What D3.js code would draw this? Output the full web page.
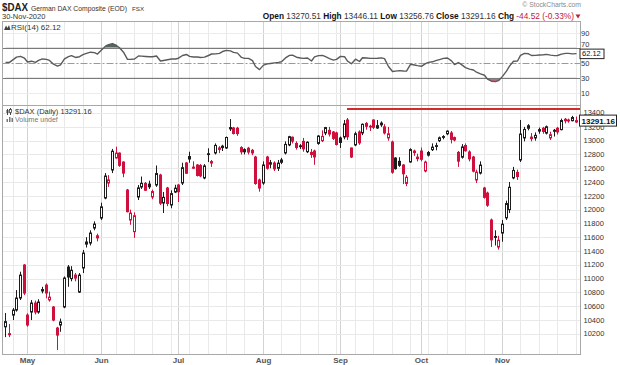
<!DOCTYPE html>
<html><head><meta charset="utf-8">
<script src="https://cdn.jsdelivr.net/npm/d3@7"></script>
<style>body{margin:0;background:#fff}svg{display:block}text{font-family:"Liberation Sans",Arial,sans-serif}</style>
</head><body><svg id="c" width="620" height="365"></svg>
<script>
const dates = ["2020-04-23","2020-04-24","2020-04-27","2020-04-28","2020-04-29","2020-04-30",
"2020-05-04","2020-05-05","2020-05-06","2020-05-07","2020-05-08","2020-05-11","2020-05-12","2020-05-13","2020-05-14","2020-05-15",
"2020-05-18","2020-05-19","2020-05-20","2020-05-21","2020-05-22","2020-05-25","2020-05-26","2020-05-27","2020-05-28","2020-05-29",
"2020-06-02","2020-06-03","2020-06-04","2020-06-05","2020-06-08","2020-06-09","2020-06-10","2020-06-11","2020-06-12",
"2020-06-15","2020-06-16","2020-06-17","2020-06-18","2020-06-19","2020-06-22","2020-06-23","2020-06-24","2020-06-25","2020-06-26","2020-06-29","2020-06-30",
"2020-07-01","2020-07-02","2020-07-03","2020-07-06","2020-07-07","2020-07-08","2020-07-09","2020-07-10","2020-07-13","2020-07-14","2020-07-15","2020-07-16","2020-07-17",
"2020-07-20","2020-07-21","2020-07-22","2020-07-23","2020-07-24","2020-07-27","2020-07-28","2020-07-29","2020-07-30","2020-07-31",
"2020-08-03","2020-08-04","2020-08-05","2020-08-06","2020-08-07","2020-08-10","2020-08-11","2020-08-12","2020-08-13","2020-08-14",
"2020-08-17","2020-08-18","2020-08-19","2020-08-20","2020-08-21","2020-08-24","2020-08-25","2020-08-26","2020-08-27","2020-08-28","2020-08-31",
"2020-09-01","2020-09-02","2020-09-03","2020-09-04","2020-09-07","2020-09-08","2020-09-09","2020-09-10","2020-09-11","2020-09-14","2020-09-15","2020-09-16","2020-09-17","2020-09-18",
"2020-09-21","2020-09-22","2020-09-23","2020-09-24","2020-09-25","2020-09-28","2020-09-29","2020-09-30",
"2020-10-01","2020-10-02","2020-10-05","2020-10-06","2020-10-07","2020-10-08","2020-10-09","2020-10-12","2020-10-13","2020-10-14","2020-10-15","2020-10-16",
"2020-10-19","2020-10-20","2020-10-21","2020-10-22","2020-10-23","2020-10-26","2020-10-27","2020-10-28","2020-10-29","2020-10-30",
"2020-11-02","2020-11-03","2020-11-04","2020-11-05","2020-11-06","2020-11-09","2020-11-10","2020-11-11","2020-11-12","2020-11-13",
"2020-11-16","2020-11-17","2020-11-18","2020-11-19","2020-11-20","2020-11-23","2020-11-24","2020-11-25","2020-11-26","2020-11-27","2020-11-30"];

const opens = [10300,10200,10470,10543,10717,11196,10470,10514,10645,10514,10820,10905,10690,10587,10282,10326,10587,11167,11000,11050,10804,11153,11530,11515,11733,11620,
11878,12168,12386,12575,12750,12820,12690,12284,11849,11680,12183,12328,12380,12370,12183,12357,12502,12096,12313,12067,12255,
12357,12386,12676,12770,12600,12647,12640,12459,12810,12676,12822,12894,12900,12894,13190,13184,13180,12900,12870,12890,12860,12763,12430,
12386,12763,12680,12676,12600,12720,12822,12938,13050,12960,12925,12990,12840,12800,12850,12960,13000,13112,13150,13125,13112,
13039,13054,13300,12894,12938,13126,13112,13250,13210,13300,13184,13230,13200,13040,12981,12748,12700,12647,12380,12691,12850,12740,
12850,12560,12790,12870,12920,13000,13060,13100,13112,13045,12830,12760,12930,12836,12763,12430,12530,12313,12240,11849,11610,11457,
11660,11880,12000,12460,12540,12720,13040,13180,13030,13040,13160,13180,13110,13040,13150,13180,13160,13310,13300,13290,13270.51];
const highs = [10500,10340,10572,10833,11099,11210,10495,10688,10680,10700,10880,10930,10810,10600,10300,10420,11030,11196,11180,11080,11080,11414,11600,11700,11830,11650,
12100,12530,12500,12880,12913,12830,12700,12300,12000,11960,12357,12480,12400,12420,12290,12640,12520,12255,12330,12280,12360,
12370,12680,12690,12840,12700,12660,12660,12660,12890,12720,12960,12920,12940,13060,13314,13200,13200,12920,12890,12910,12880,12780,12450,
12700,12780,12720,12700,12720,12750,12990,13070,13060,12990,12950,13040,12990,12880,12870,13080,13150,13200,13200,13140,13130,
13060,13300,13329,12900,13130,13150,13250,13270,13230,13310,13300,13280,13240,13200,13000,12760,12760,12660,12500,12890,12870,12810,
12900,12710,12850,12960,12970,13060,13080,13150,13140,13060,12850,12950,12960,12860,12780,12580,12700,12330,12260,11870,11700,11620,
11850,12130,12400,12620,12580,13300,13200,13240,13110,13120,13190,13200,13220,13130,13170,13200,13320,13330,13320,13360,13350];
const lows = [10150,10150,10398,10520,10688,10760,10301,10398,10480,10490,10785,10713,10665,10380,9962,10228,10570,10880,10960,10960,10790,11080,11450,11480,11700,11540,
11850,12150,12330,12530,12740,12620,12470,11960,11780,11590,12139,12300,12270,12300,12150,12330,12067,11951,12050,12020,12240,
12110,12357,12520,12680,12590,12480,12470,12440,12690,12620,12800,12820,12850,12880,13140,13090,13070,12800,12800,12800,12790,12360,12260,
12360,12580,12600,12560,12560,12660,12800,12920,12960,12870,12880,12840,12820,12750,12650,12940,12980,13080,13060,13010,12930,
12894,13020,13010,12748,12920,12940,13080,13160,13140,13170,13170,13200,13090,13000,12520,12580,12620,12370,12340,12680,12780,12700,
12700,12540,12770,12850,12860,12980,13020,13080,12960,12990,12620,12740,12840,12700,12540,12386,12510,12160,12040,11457,11480,11420,
11534,11850,11950,12440,12430,12690,12990,13150,12990,13000,13100,13100,13090,13010,13060,13090,13150,13250,13260,13280,13256.76];
const closes = [10375,10185,10543,10717,11050,10790,10326,10645,10514,10659,10840,10790,10730,10398,10180,10370,11007,11022,11120,11007,11050,11370,11500,11660,11790,11590,
12040,12487,12431,12847,12820,12642,12530,11970,11949,11911,12315,12382,12281,12331,12262,12523,12093,12177,12089,12232,12311,
12260,12608,12528,12734,12616,12495,12489,12633,12800,12697,12931,12874,12920,13046,13171,13104,13103,12838,12839,12835,12822,12379,12313,
12647,12600,12660,12591,12674,12687,12946,13058,12994,12901,12920,12881,12977,12830,12764,13067,13062,13190,13096,13033,12945,
12974,13243,13057,12763,13100,12968,13237,13209,13203,13194,13218,13255,13112,13100,12542,12594,12643,12520,12469,12871,12826,12761,
12730,12689,12828,12906,12928,13042,13051,13138,13019,13010,12703,12909,12854,12736,12558,12543,12646,12178,12064,11561,11598,11556,
11788,12088,12324,12568,12480,13096,13163,13217,13052,13077,13139,13133,13202,13087,13137,13127,13292,13289,13286,13335.68,13291.16];

const rsi = [50.5,50.5,54.5,57.5,58.5,56,51,52,50.5,53,55,54.5,53,48,45.5,47,55,58,59.4,57,58,61,62.5,64,63.5,61.5,67,72,74,75.5,
73,70,64,54.5,54.5,55,59,58.7,58.3,58,58,59,52.3,53,54,55,55,56,59.6,61,58.5,57.6,57.6,57,57.5,59.6,61.6,61.7,62.5,64.9,
66.5,65.8,63.8,62.8,57,55.8,55.8,52.7,45,40.8,46.8,48.4,49,49.7,50.4,51.3,56.4,59.7,60,57.3,56.3,55.8,56.3,52.3,57.8,59.5,59.8,58,55.5,53.5,
54.5,58.5,58,52,48.6,54.7,51.6,56.6,56.2,55.8,55.8,56,56.5,55.4,45,38.2,38.7,39.4,39,38.8,47.9,47,46.1,45.2,48.8,50.5,51.2,53,54.2,55.8,
56.2,52.4,47.6,50.2,46.4,43.5,41.5,40.2,37.3,35,33.3,28,25.3,24.7,26,31.8,38.7,45.5,52,52.3,59.7,62.5,61.9,59.6,59.8,60.2,60.6,61.1,60.1,59.4,
59.6,61.4,62.4,62.5,61.8,62.12];

const priceTicks = [10200,10400,10600,10800,11000,11200,11400,11600,11800,12000,12200,12400,12600,12800,13000,13200,13400];
const rsiTicks = [10,30,50,70,90];
const rsiLevels = [30,50,70];
const resistanceLevel = 13460;
const resistanceStart = "2020-09-03";
const lastClose = "13291.16";
const lastRsi = "62.12";
const headerQuote = [["Open","13270.51"],["High","13446.11"],["Low","13256.76"],["Close","13291.16"]];
const headerChg = "-44.52 (-0.33%)";

const svg = d3.select("#c");
svg.append("rect").attr("width",620).attr("height",365).attr("fill","#fff");

const L = 2.5, R = 580.5;
const rsiTop = 21.5, rsiBot = 105.5, mainTop = 105.5, mainBot = 354.5;
const parse = d3.timeParse("%Y-%m-%d");
const dts = dates.map(parse);
const x = d3.scaleBand().domain(d3.range(dates.length)).range([3.4, 577.5]);
const cx = i => Math.round(x(i) + x.bandwidth()/2);
const y = d3.scaleLinear().domain([10200, 13400]).range([333.7, 113.1]);
const ry = d3.scaleLinear().domain([30, 70]).range([77.7, 47.7]);

const weekStarts = [], monthStarts = [];
dts.forEach((d,i)=>{
  if(i===0) return;
  const p = dts[i-1];
  if(d.getMonth()!==p.getMonth()) monthStarts.push(i);
  else if(d3.timeMonday.floor(d).getTime()!==d3.timeMonday.floor(p).getTime()) weekStarts.push(i);
});

function grid(top, bot){
  const g = svg.append("g");
  weekStarts.forEach(i=>g.append("line").attr("x1",cx(i)+0.5).attr("x2",cx(i)+0.5).attr("y1",top).attr("y2",bot).attr("stroke","#e9e9e9"));
  monthStarts.forEach(i=>g.append("line").attr("x1",cx(i)+0.5).attr("x2",cx(i)+0.5).attr("y1",top).attr("y2",bot).attr("stroke","#d2d2d2"));
  return g;
}

// ---------- RSI panel ----------
grid(rsiTop, rsiBot);
[10,90].forEach(v=>svg.append("line").attr("x1",L).attr("x2",R).attr("y1",Math.round(ry(v))+0.5).attr("y2",Math.round(ry(v))+0.5).attr("stroke","#ececec"));
svg.append("defs").call(d=>{
  d.append("clipPath").attr("id","above").append("rect").attr("x",L).attr("y",rsiTop).attr("width",R-L).attr("height",ry(70)-rsiTop);
  d.append("clipPath").attr("id","below").append("rect").attr("x",L).attr("y",ry(30)).attr("width",R-L).attr("height",rsiBot-ry(30));
  d.append("clipPath").attr("id","mainClip").append("rect").attr("x",L).attr("y",mainTop).attr("width",R-L).attr("height",mainBot-mainTop);
});
const rsiArea = lvl => d3.area().x((d,i)=>cx(i)+0.5).y0(ry(lvl)).y1(d=>ry(d));
svg.append("path").datum(rsi).attr("d",rsiArea(70)).attr("fill","#55675d").attr("clip-path","url(#above)");
svg.append("path").datum(rsi).attr("d",rsiArea(30)).attr("fill","#c94a64").attr("opacity",0.85).attr("clip-path","url(#below)");
rsiLevels.forEach(v=>{
  const yy = Math.round(ry(v))+0.5;
  svg.append("line").attr("x1",L).attr("x2",R).attr("y1",yy).attr("y2",yy)
    .attr("stroke", v===50 ? "#9a9a9a" : "#7a7a7a").attr("stroke-width",1)
    .attr("stroke-dasharray", v===50 ? "7,2,2,2" : null);
});
svg.append("path").datum(rsi).attr("d",d3.line().x((d,i)=>cx(i)+0.5).y(d=>ry(d)))
  .attr("fill","none").attr("stroke","#5a5a5a").attr("stroke-width",1.4).attr("stroke-linejoin","round");
svg.append("rect").attr("x",L).attr("y",rsiTop).attr("width",R-L).attr("height",rsiBot-rsiTop).attr("fill","none").attr("stroke","#a8a8a8");
rsiTicks.forEach(v=>{ if(v!==70) svg.append("text").attr("x",R+0.5).attr("y",ry(v)+3).attr("font-size",7.5).attr("fill","#333").text(v); });
svg.append("text").attr("x",R+0.5).attr("y",ry(70)-0.5).attr("font-size",7.5).attr("fill","#333").text(70);
{
  const yy = ry(+lastRsi);
  svg.append("rect").attr("x",R-0.5).attr("y",yy-4.5).attr("width",24).attr("height",9.5).attr("fill","#fff").attr("stroke","#222");
  svg.append("text").attr("x",R+1.5).attr("y",yy+2.8).attr("font-size",7.5).attr("fill","#111").text(lastRsi);
}
svg.append("path").attr("d","M4,30 L6,25.5 L7.5,28 L9,25 L10.5,30 Z").attr("fill","#444");
svg.append("text").attr("x",11).attr("y",30).attr("font-family","'DejaVu Sans Mono',monospace").attr("font-size",8).attr("fill","#333").text("RSI(14) "+lastRsi);

// ---------- Main panel ----------
grid(mainTop, mainBot);
priceTicks.forEach(v=>svg.append("line").attr("x1",L).attr("x2",R).attr("y1",Math.round(y(v))+0.5).attr("y2",Math.round(y(v))+0.5).attr("stroke","#e9e9e9"));
const boxY = y(+lastClose);
priceTicks.forEach(v=>{
  // labels near the last-value box are nudged so they peek out as in the reference
  let ty = y(v)+2.7;
  if (v === 13400) ty = y(v) + 1.5;
  if (v === 13200) ty = y(v) + 3.5;
  svg.append("text").attr("x",R+3).attr("y",ty).attr("font-size",7.5).attr("fill","#333").text(v);
});

const gC = svg.append("g").attr("clip-path","url(#mainClip)");
const RED = "#d0103c", BLK = "#1c1c1c";
dates.forEach((d,i)=>{
  const o=opens[i], h=highs[i], l=lows[i], c=closes[i];
  const prev = i>0 ? closes[i-1] : o;
  const col = c >= prev ? BLK : RED;
  const hollow = c >= o;
  const px = cx(i);
  gC.append("line").attr("x1",px+0.5).attr("x2",px+0.5).attr("y1",y(h)).attr("y2",y(l)).attr("stroke",col).attr("stroke-width",1);
  const top = y(Math.max(o,c)), bot = y(Math.min(o,c));
  gC.append("rect").attr("x",px-0.5).attr("y",top).attr("width",2).attr("height",Math.max(0.8,bot-top))
    .attr("fill",hollow?"#fff":col).attr("stroke",col).attr("stroke-width",1);
});
{
  const i0 = dates.indexOf(resistanceStart);
  svg.append("line").attr("x1",cx(i0)).attr("x2",R).attr("y1",y(resistanceLevel)).attr("y2",y(resistanceLevel))
    .attr("stroke","#d42a2a").attr("stroke-width",2);
}
svg.append("rect").attr("x",L).attr("y",mainTop).attr("width",R-L).attr("height",mainBot-mainTop).attr("fill","none").attr("stroke","#a8a8a8");
svg.append("rect").attr("x",R-1).attr("y",boxY-5.5).attr("width",37).attr("height",11).attr("fill","#fff").attr("stroke","#222");
svg.append("text").attr("x",R+1).attr("y",boxY+3).attr("font-size",8).attr("font-weight","bold").attr("fill","#111").text(lastClose);

svg.append("path").attr("d","M7.5,109 v6 M10.5,108 v7").attr("stroke","#444").attr("stroke-width",1);
svg.append("rect").attr("x",6.5).attr("y",110).attr("width",2).attr("height",3).attr("fill","#444");
svg.append("rect").attr("x",9.5).attr("y",109.5).attr("width",2).attr("height",3).attr("fill","#fff").attr("stroke","#444").attr("stroke-width",0.8);
svg.append("text").attr("x",15).attr("y",113.5).attr("font-family","'DejaVu Sans Mono',monospace").attr("font-size",7.5).attr("fill","#333")
  .text("$DAX (Daily) "+lastClose);
svg.append("path").attr("d","M6.5,122 v-3 h1.5 v3 M9,122 v-5 h1.5 v5 M11.5,122 v-4 h1.5 v4").attr("fill","#777");
svg.append("text").attr("x",15).attr("y",122).attr("font-size",7).attr("fill","#777").text("Volume undef");

const fmt = d3.timeFormat("%b");
monthStarts.forEach(i=>{
  svg.append("text").attr("x",cx(i)+0.5).attr("y",362.5).attr("text-anchor","middle").attr("font-size",8).attr("font-weight","bold").attr("fill","#555").text(fmt(dts[i]));
});

// ---------- Header ----------
svg.append("text").attr("x",2).attr("y",10.5).attr("font-size",10).attr("font-weight","bold").attr("fill","#222")
  .attr("textLength",26).attr("lengthAdjust","spacingAndGlyphs").text("$DAX");
svg.append("text").attr("x",31).attr("y",10.5).attr("font-size",6.8).attr("fill","#333").text("German DAX Composite (EOD)");
svg.append("text").attr("x",132).attr("y",10.5).attr("font-size",6.2).attr("fill","#333").text("FSX");
svg.append("text").attr("x",2).attr("y",19).attr("font-size",7.5).attr("fill","#333").text("30-Nov-2020");
svg.append("text").attr("x",581).attr("y",7).attr("text-anchor","end").attr("font-size",6.8).attr("fill","#8a8a8a").text("\u00a9 StockCharts.com");
{
  const t = svg.append("text").attr("x",574).attr("y",19).attr("text-anchor","end").attr("font-size",8.3).attr("fill","#333");
  headerQuote.forEach(([k,v],j)=>{
    t.append("tspan").attr("font-weight","bold").attr("fill","#111").text((j?" ":"")+k+" ");
    t.append("tspan").text(v);
  });
  t.append("tspan").attr("font-weight","bold").attr("fill","#111").text(" Chg ");
  t.append("tspan").attr("fill","#c0203a").text(headerChg);
  svg.append("path").attr("d","M575.5,14.5 L580.5,14.5 L578,18.5 Z").attr("fill","#c0203a");
}
</script></body></html>
